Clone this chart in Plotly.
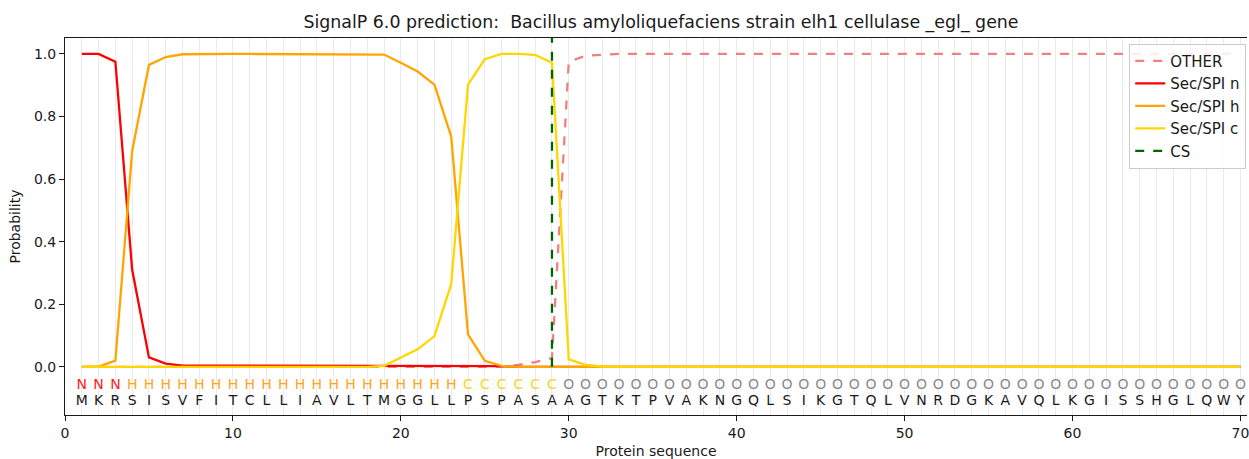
import plotly.graph_objects as go

sequence = list("MKRSISVFITCLLIAVLTMGGLLPSPASAAGTKTPVAKNGQLSIKGTQLVNRDGKAVQLKGISSHGLQWY")
region_labels = ["N"] * 3 + ["H"] * 20 + ["C"] * 6 + ["O"] * 41
positions = list(range(1, len(sequence) + 1))

prob_other = [0.0] * 26 + [0.006, 0.015, 0.028, 0.975, 0.994, 0.998] + [1.0] * 38
prob_n = [1.0, 1.0, 0.975, 0.31, 0.03, 0.01] + [0.004] * 19 + [0.002] + [0.0] * 44
prob_h = [0.0, 0.001, 0.02, 0.69, 0.965, 0.99, 0.999] + [1.0] * 11 + \
         [0.998, 0.972, 0.944, 0.902, 0.736, 0.104, 0.019, 0.003] + [0.0] * 44
prob_c = [0.0] * 18 + [0.003, 0.03, 0.056, 0.098, 0.264, 0.902, 0.983, 1.0, 1.0,
                       0.997, 0.972, 0.024, 0.006, 0.001] + [0.0] * 38
cleavage_site = 29

label_colors = {"N": "#ff1a1a", "H": "#ffa520", "C": "#ffd21a", "O": "#8a8a8a"}

FONT = "DejaVu Sans"
fig = go.Figure()

fig.add_trace(go.Scatter(x=positions, y=prob_other, mode="lines", name="OTHER",
                         line=dict(color="#f08080", width=2.3, dash="dash")))
fig.add_trace(go.Scatter(x=positions, y=prob_n, mode="lines", name="Sec/SPI n",
                         line=dict(color="#ff0000", width=2.3)))
fig.add_trace(go.Scatter(x=positions, y=prob_h, mode="lines", name="Sec/SPI h",
                         line=dict(color="#ffa500", width=2.3)))
fig.add_trace(go.Scatter(x=positions, y=prob_c, mode="lines", name="Sec/SPI c",
                         line=dict(color="#ffd700", width=2.3)))
fig.add_trace(go.Scatter(x=[cleavage_site, cleavage_site], y=[0, 1.06], mode="lines", name="CS",
                         line=dict(color="#006400", width=2.3, dash="dash")))

fig.add_trace(go.Scatter(x=positions, y=[-0.059] * len(positions), mode="text",
                         text=region_labels, showlegend=False, hoverinfo="skip",
                         textfont=dict(family=FONT, size=14,
                                       color=[label_colors[l] for l in region_labels])))
fig.add_trace(go.Scatter(x=positions, y=[-0.110] * len(positions), mode="text",
                         text=sequence, showlegend=False, hoverinfo="skip",
                         textfont=dict(family=FONT, size=14, color="#1a1a1a")))

fig.update_layout(
    width=1249, height=459,
    margin=dict(l=65, r=0, t=38, b=41),
    paper_bgcolor="white", plot_bgcolor="white",
    font=dict(family=FONT, size=14, color="#1a1a1a"),
    title=dict(text="SignalP 6.0 prediction:\u00a0 Bacillus amyloliquefaciens strain elh1 cellulase _egl_ gene",
               x=(662 - 65) / 1184, xref="paper", xanchor="center",
               y=1 - 22 / 459, yanchor="middle", font=dict(size=17.4, family=FONT, color="#1a1a1a")),
    legend=dict(x=(1131 - 65) / 1184, y=0.985, xanchor="left", yanchor="top",
                bgcolor="rgba(255,255,255,0.85)", bordercolor="#cccccc", borderwidth=1,
                font=dict(size=15, family=FONT), tracegroupgap=0),
    showlegend=True,
)
fig.update_xaxes(range=[0, 70.39], tickmode="array", tickvals=[0, 10, 20, 30, 40, 50, 60, 70],
                 ticks="outside", ticklen=5, tickcolor="#1a1a1a", ticklabeloverflow="allow",
                 showline=True, linecolor="#1a1a1a", linewidth=1, mirror=True,
                 showgrid=True, gridcolor="#ebebeb", gridwidth=1,
                 minor=dict(dtick=1, tick0=0, showgrid=True, gridcolor="#ebebeb", gridwidth=1),
                 zeroline=False,
                 title=dict(text="Protein sequence", standoff=8, font=dict(size=14)))
fig.update_yaxes(range=[-0.154, 1.051], tickmode="array", tickvals=[0, 0.2, 0.4, 0.6, 0.8, 1.0],
                 tickformat=".1f", ticks="outside", ticklen=5, tickcolor="#1a1a1a",
                 showline=True, linecolor="#1a1a1a", linewidth=1, mirror=False,
                 showgrid=False, zeroline=False,
                 title=dict(text="Probability", standoff=10, font=dict(size=14)))

fig.write_html("out.html")
